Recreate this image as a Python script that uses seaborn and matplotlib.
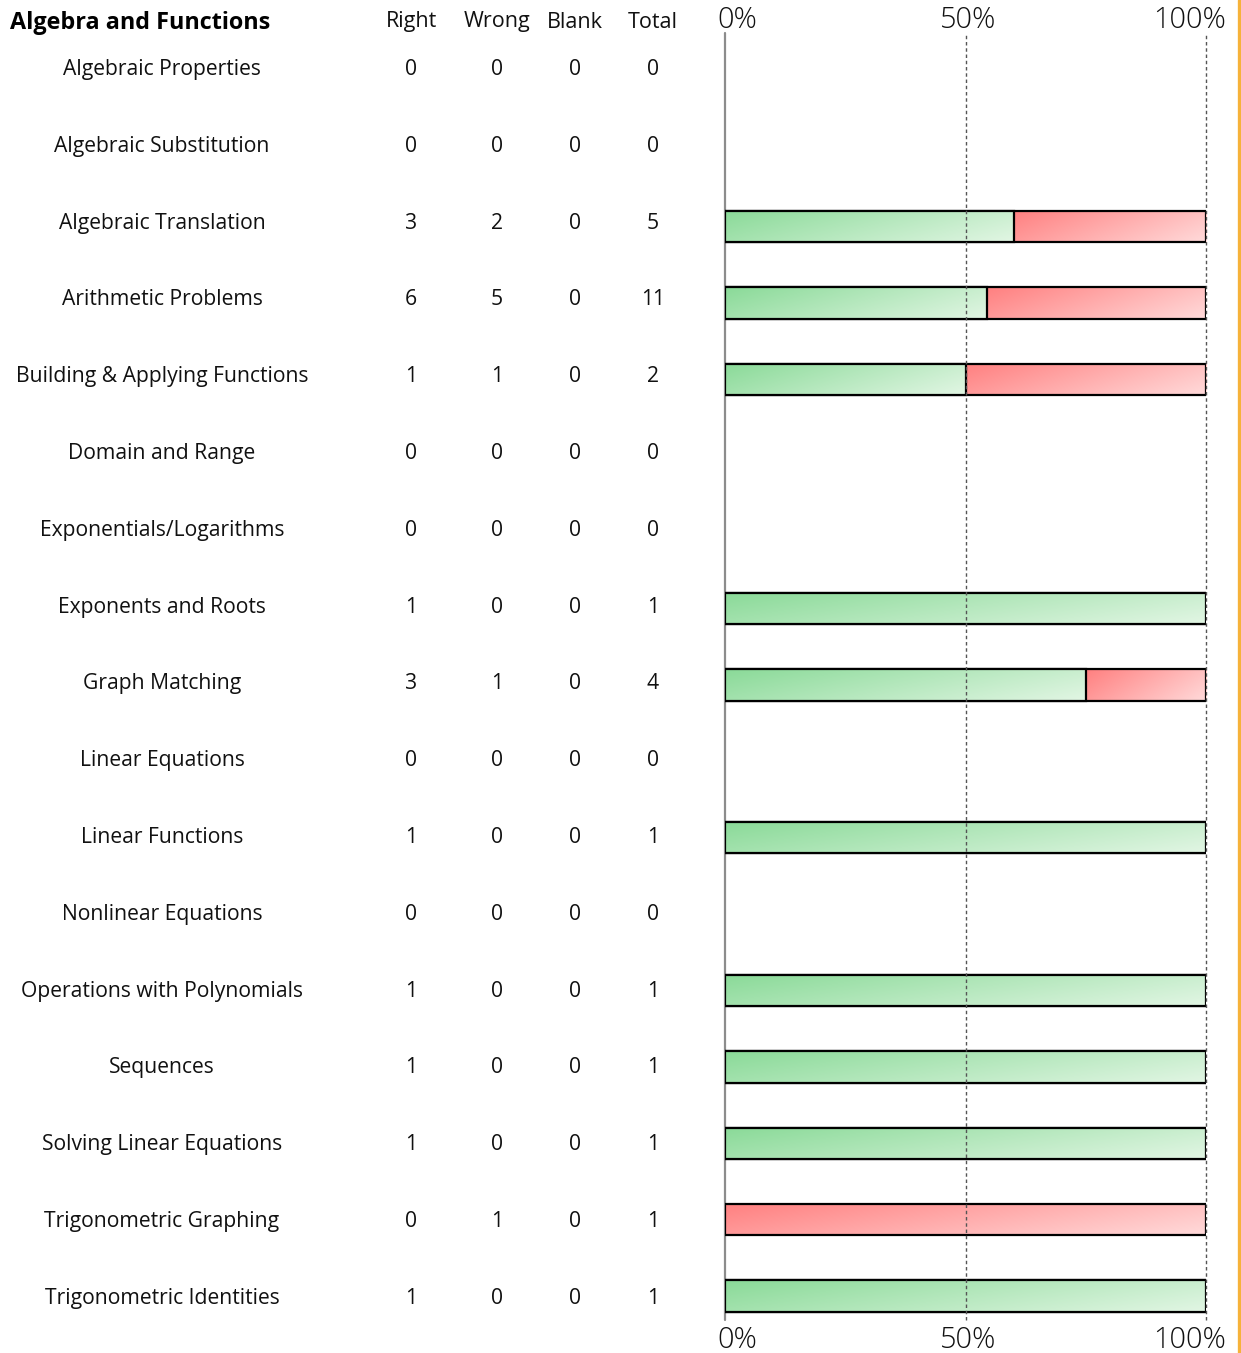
import numpy as np
import pandas as pd
import matplotlib
matplotlib.use("Agg")
import matplotlib.pyplot as plt
import matplotlib.transforms as mtransforms
import seaborn as sns

categories = [
    "Algebraic Properties", "Algebraic Substitution", "Algebraic Translation",
    "Arithmetic Problems", "Building & Applying Functions", "Domain and Range",
    "Exponentials/Logarithms", "Exponents and Roots", "Graph Matching",
    "Linear Equations", "Linear Functions", "Nonlinear Equations",
    "Operations with Polynomials", "Sequences", "Solving Linear Equations",
    "Trigonometric Graphing", "Trigonometric Identities",
]
right = [0, 0, 3, 6, 1, 0, 0, 1, 3, 0, 1, 0, 1, 1, 1, 0, 1]
wrong = [0, 0, 2, 5, 1, 0, 0, 0, 1, 0, 0, 0, 0, 0, 0, 1, 0]
blank = [0, 0, 0, 0, 0, 0, 0, 0, 0, 0, 0, 0, 0, 0, 0, 0, 0]
total = [0, 0, 5, 11, 2, 0, 0, 1, 4, 0, 1, 0, 1, 1, 1, 1, 1]
title = "Algebra and Functions"
col_headers = ["Right", "Wrong", "Blank", "Total"]
tick_vals = [0, 50, 100]
tick_labels = ["0%", "50%", "100%"]

W, H = 1241, 1353
sns.set_theme(style="white")
plt.rcParams["font.family"] = ["Open Sans", "DejaVu Sans"]

df = pd.DataFrame({"cat": categories, "right": right, "wrong": wrong,
                   "blank": blank, "total": total})
tot = df["total"].astype(float)
df["full"] = np.where(tot > 0, 100.0, np.nan)
df["right_pct"] = np.where(tot > 0, df["right"] / tot.replace(0, np.nan) * 100, np.nan)

fig = plt.figure(figsize=(W / 100, H / 100), dpi=100)
ax_left, ax_right = 725 / W, 1206 / W
ax_top, ax_bot = 33 / H, 1320 / H
ax = fig.add_axes([ax_left, 1 - ax_bot, ax_right - ax_left, ax_bot - ax_top])

bar_h = 0.41
n0 = len(ax.patches)
sns.barplot(data=df, x="full", y="cat", order=categories, orient="h", ax=ax,
            color="#ff8a8a", width=bar_h, errorbar=None, edgecolor="black",
            linewidth=1.6)
red_patches = list(ax.patches[n0:])
n1 = len(ax.patches)
sns.barplot(data=df, x="right_pct", y="cat", order=categories, orient="h", ax=ax,
            color="#8fdc9c", width=bar_h, errorbar=None, edgecolor="black",
            linewidth=1.6)
green_patches = list(ax.patches[n1:])

px_per_row = 76.4
ylim = (2 + (1320 - 226.5) / px_per_row, 2 - (226.5 - 33) / px_per_row)


def gradient(c0, c1, nx=200, ny=30, wx=0.72):
    xx, yy = np.meshgrid(np.linspace(0, 1, nx), np.linspace(0, 1, ny))
    t = wx * xx + (1 - wx) * yy
    c0 = np.array(c0) / 255.0
    c1 = np.array(c1) / 255.0
    return c0[None, None, :] * (1 - t[..., None]) + c1[None, None, :] * t[..., None]


g_img = gradient((138, 218, 152), (226, 246, 228))
r_img = gradient((255, 128, 128), (255, 218, 218))

for p in red_patches:
    w = p.get_width()
    if not (np.isfinite(w) and w > 0):
        p.set_visible(False)
        continue
    y0, h = p.get_y(), p.get_height()
    row = int(round(y0 + h / 2))
    rp = df["right_pct"].iloc[row]
    x_start = rp if np.isfinite(rp) else 0.0
    p.set_facecolor("none")
    p.set_zorder(2.1)
    im = ax.imshow(r_img, extent=(x_start, p.get_x() + w, y0 + h, y0),
                   origin="upper", aspect="auto", zorder=2.0, interpolation="bilinear")
    im.set_clip_path(p)

for p in green_patches:
    w = p.get_width()
    if not (np.isfinite(w) and w > 0):
        p.set_visible(False)
        continue
    y0, h = p.get_y(), p.get_height()
    p.set_facecolor("none")
    p.set_zorder(2.3)
    im = ax.imshow(g_img, extent=(p.get_x(), p.get_x() + w, y0 + h, y0),
                   origin="upper", aspect="auto", zorder=2.2, interpolation="bilinear")
    im.set_clip_path(p)

ax.set_xlim(0, 100)
ax.set_ylim(*ylim)
for s in ax.spines.values():
    s.set_visible(False)
ax.set_xlabel("")
ax.set_ylabel("")
ax.set_yticks([])

# gridlines
ax.axvline(0, color="#8c8c8c", lw=1.6, zorder=1, clip_on=False)
for v in tick_vals[1:]:
    ax.axvline(v, color="#555555", lw=1.0, ls=(0, (2.5, 2)), zorder=3, clip_on=False)

ax.set_xticks(tick_vals)
ax.set_xticklabels(tick_labels)
ax.tick_params(axis="x", top=True, labeltop=True, bottom=True, labelbottom=True,
               length=0, labelsize=20.8, colors="#111111", pad=0)
offsets = [(-8, "left"), (3, "center"), (20, "right")]
for tk, (dx, ha) in zip(ax.xaxis.get_major_ticks(), offsets):
    for lab, dy in ((tk.label1, -6), (tk.label2, -2)):
        lab.set_horizontalalignment(ha)
        lab.set_fontweight("light")
        lab.set_transform(lab.get_transform() +
                          mtransforms.ScaledTranslation(dx / 100, dy / 100, fig.dpi_scale_trans))

# table text (figure pixel rows)
col_x = [411 / W, 497 / W, 575 / W, 653 / W]
fs = 15.2
for i, cat in enumerate(categories):
    yf = 1 - (69.5 + 76.8 * i) / H
    fig.text(162 / W, yf, cat, ha="center", va="center",
             fontsize=fs, color="#111111")
    for xv, val in zip(col_x, (right[i], wrong[i], blank[i], total[i])):
        fig.text(xv, yf, str(val), ha="center", va="center",
                 fontsize=fs, color="#111111")

fig.text(10 / W, 1 - 23 / H, title, ha="left", va="center", fontsize=16.8,
         fontweight="bold", color="#000000")
for xv, hd in zip(col_x, col_headers):
    fig.text(xv, 1 - 22 / H, hd, ha="center", va="center", fontsize=15.5,
             color="#111111")

# orange right border
fig.add_artist(plt.Line2D([1239 / W, 1239 / W], [0, 1], transform=fig.transFigure,
                          color="#f6b23a", lw=2.4))

fig.savefig("out.png", dpi=100, facecolor="white")
